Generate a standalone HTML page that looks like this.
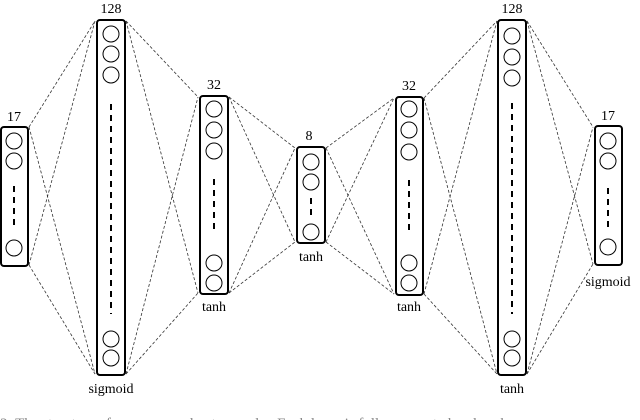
<!DOCTYPE html>
<html><head><style>body{margin:0;background:#fff}svg{display:block}</style></head><body>
<svg width="640" height="420" viewBox="0 0 640 420" xmlns="http://www.w3.org/2000/svg" font-family="Liberation Serif, serif" font-size="14">
<g stroke="#333" stroke-width="0.8" stroke-dasharray="3,2" fill="none">
<line x1="29" y1="127" x2="95" y2="21"/><line x1="29" y1="127" x2="95" y2="374"/>
<line x1="29" y1="265" x2="95" y2="21"/><line x1="29" y1="265" x2="95" y2="374"/>
<line x1="126" y1="21" x2="198" y2="97"/><line x1="126" y1="21" x2="198" y2="293"/>
<line x1="126" y1="374" x2="198" y2="97"/><line x1="126" y1="374" x2="198" y2="293"/>
<line x1="229" y1="97" x2="295" y2="148"/><line x1="229" y1="97" x2="295" y2="242"/>
<line x1="229" y1="293" x2="295" y2="148"/><line x1="229" y1="293" x2="295" y2="242"/>
<line x1="326" y1="148" x2="394" y2="98"/><line x1="326" y1="148" x2="394" y2="294"/>
<line x1="326" y1="242" x2="394" y2="98"/><line x1="326" y1="242" x2="394" y2="294"/>
<line x1="424" y1="98" x2="497" y2="21"/><line x1="424" y1="98" x2="497" y2="374"/>
<line x1="424" y1="294" x2="497" y2="21"/><line x1="424" y1="294" x2="497" y2="374"/>
<line x1="527" y1="21" x2="593" y2="127"/><line x1="527" y1="21" x2="593" y2="264"/>
<line x1="527" y1="374" x2="593" y2="127"/><line x1="527" y1="374" x2="593" y2="264"/>
</g>
<g stroke="#000" fill="#fff" stroke-width="2">
<rect x="1" y="127" width="27" height="139" rx="3"/>
<rect x="97" y="20" width="28" height="355" rx="3"/>
<rect x="200" y="96" width="28" height="198" rx="3"/>
<rect x="297" y="147" width="28" height="96" rx="3"/>
<rect x="396" y="97" width="27" height="198" rx="3"/>
<rect x="498" y="20" width="28" height="355" rx="3"/>
<rect x="595" y="126" width="27" height="139" rx="3"/>
</g>
<g stroke="#000" fill="none" stroke-width="1">
<circle cx="14" cy="141" r="8"/><circle cx="14" cy="161" r="8"/><circle cx="14" cy="248" r="8"/>
<circle cx="111" cy="34" r="8"/><circle cx="111" cy="54" r="8"/><circle cx="111" cy="75" r="8"/><circle cx="111" cy="339" r="8"/><circle cx="111" cy="358" r="8"/>
<circle cx="214" cy="109" r="8"/><circle cx="214" cy="130" r="8"/><circle cx="214" cy="151" r="8"/><circle cx="214" cy="263" r="8"/><circle cx="214" cy="283" r="8"/>
<circle cx="311" cy="162" r="8"/><circle cx="311" cy="182" r="8"/><circle cx="311" cy="232" r="8"/>
<circle cx="409" cy="109" r="8"/><circle cx="409" cy="130" r="8"/><circle cx="409" cy="152" r="8"/><circle cx="409" cy="263" r="8"/><circle cx="409" cy="283" r="8"/>
<circle cx="512" cy="36" r="8"/><circle cx="512" cy="57" r="8"/><circle cx="512" cy="78" r="8"/><circle cx="512" cy="339" r="8"/><circle cx="512" cy="358" r="8"/>
<circle cx="608" cy="141" r="8"/><circle cx="608" cy="161" r="8"/><circle cx="608" cy="247" r="8"/>
</g>
<g stroke="#000" stroke-width="2" stroke-dasharray="6,5">
<line x1="14" y1="186" x2="14" y2="228"/>
<line x1="111" y1="104" x2="111" y2="314"/>
<line x1="214" y1="179" x2="214" y2="233"/>
<line x1="311" y1="198" x2="311" y2="216"/>
<line x1="409" y1="180" x2="409" y2="234"/>
<line x1="512" y1="103" x2="512" y2="314"/>
<line x1="608" y1="188" x2="608" y2="230"/>
</g>
<g text-anchor="middle" fill="#000">
<text x="14" y="121">17</text>
<text x="111" y="13">128</text>
<text x="214" y="89">32</text>
<text x="309" y="140">8</text>
<text x="409" y="90">32</text>
<text x="512" y="13">128</text>
<text x="608" y="120">17</text>
<text x="111" y="393">sigmoid</text>
<text x="214" y="311">tanh</text>
<text x="311" y="261">tanh</text>
<text x="409" y="311">tanh</text>
<text x="512" y="393">tanh</text>
<text x="608" y="286">sigmoid</text>
</g>
<text x="0" y="428" fill="#888" font-size="15">2: The structure of our proposed autoencoder. Each layer is fully connected and each</text>
</svg>
</body></html>
